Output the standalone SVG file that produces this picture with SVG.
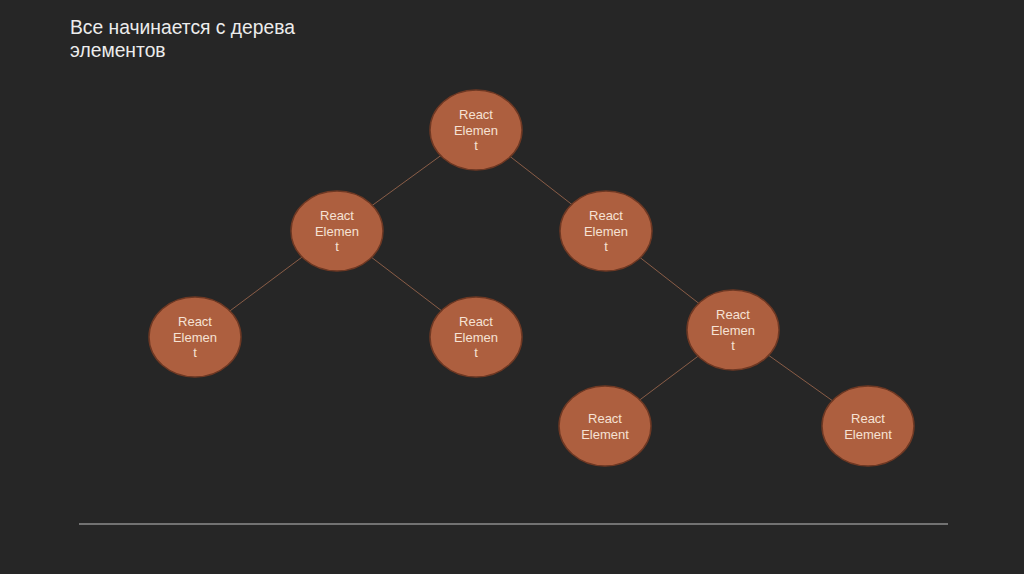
<svg xmlns="http://www.w3.org/2000/svg" width="1024" height="574" viewBox="0 0 1024 574">
<style>
.n{fill:#ad5f3f;stroke:#6e3823;stroke-width:1.5}
.t{font-family:"Liberation Sans",Arial,sans-serif;font-size:13px;fill:#f6e2d4;text-anchor:middle}
.c{stroke:#8a5d47;stroke-width:1;fill:none}
.h{font-family:"Liberation Sans",Arial,sans-serif;font-size:19.3px;fill:#ececec}
</style>
<rect width="1024" height="574" fill="#262626"/>
<g id="title"><text class="h" x="70" y="34">Все начинается с дерева</text><text class="h" x="70" y="57">элементов</text></g>
<g id="connectors">
<line class="c" x1="476" y1="130" x2="337" y2="231"/>
<line class="c" x1="476" y1="130" x2="606" y2="231"/>
<line class="c" x1="337" y1="231" x2="195" y2="337"/>
<line class="c" x1="337" y1="231" x2="476" y2="337"/>
<line class="c" x1="606" y1="231" x2="733" y2="330"/>
<line class="c" x1="733" y1="330" x2="605" y2="426"/>
<line class="c" x1="733" y1="330" x2="868" y2="426"/>
</g>
<g id="n1"><ellipse class="n" cx="476" cy="130" rx="46" ry="40"/><text class="t" x="476" y="119">React</text><text class="t" x="476" y="135">Elemen</text><text class="t" x="476" y="150">t</text></g>
<g id="n2"><ellipse class="n" cx="337" cy="231" rx="46" ry="40"/><text class="t" x="337" y="220">React</text><text class="t" x="337" y="236">Elemen</text><text class="t" x="337" y="251">t</text></g>
<g id="n3"><ellipse class="n" cx="606" cy="231" rx="46" ry="40"/><text class="t" x="606" y="220">React</text><text class="t" x="606" y="236">Elemen</text><text class="t" x="606" y="251">t</text></g>
<g id="n4"><ellipse class="n" cx="195" cy="337" rx="46" ry="40"/><text class="t" x="195" y="326">React</text><text class="t" x="195" y="342">Elemen</text><text class="t" x="195" y="357">t</text></g>
<g id="n5"><ellipse class="n" cx="476" cy="337" rx="46" ry="40"/><text class="t" x="476" y="326">React</text><text class="t" x="476" y="342">Elemen</text><text class="t" x="476" y="357">t</text></g>
<g id="n6"><ellipse class="n" cx="733" cy="330" rx="46" ry="40"/><text class="t" x="733" y="319">React</text><text class="t" x="733" y="335">Elemen</text><text class="t" x="733" y="350">t</text></g>
<g id="n7"><ellipse class="n" cx="605" cy="426" rx="46" ry="40"/><text class="t" x="605" y="423">React</text><text class="t" x="605" y="439">Element</text></g>
<g id="n8"><ellipse class="n" cx="868" cy="426" rx="46" ry="40"/><text class="t" x="868" y="423">React</text><text class="t" x="868" y="439">Element</text></g>
<line x1="79" y1="524" x2="948" y2="524" stroke="#8c8c8c" stroke-width="1.5"/>
</svg>
